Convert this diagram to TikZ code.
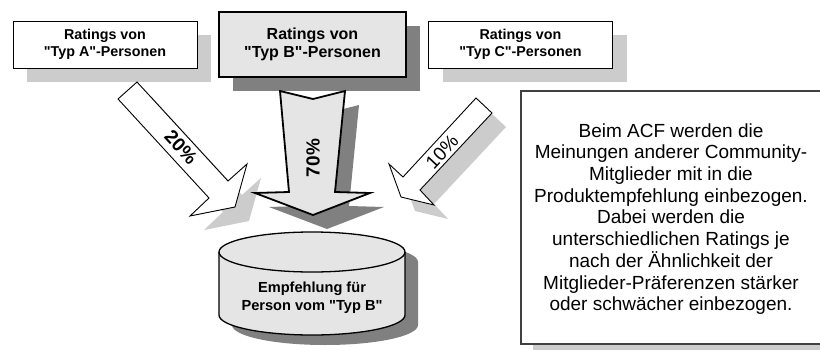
\documentclass[tikz,border=0pt]{standalone}
\usepackage{fontspec}
\setmainfont{Liberation Sans}[Ligatures=TeXOff]
\usetikzlibrary{shadows}

\definecolor{shadelight}{gray}{0.8}
\definecolor{shadedark}{gray}{0.5}
\definecolor{fillgray}{gray}{0.9}

\tikzset{
  lightshadow/.style={drop shadow={shadow xshift=14pt, shadow yshift=-14pt, fill=shadelight, opacity=1}},
  darkshadow/.style={drop shadow={shadow xshift=14pt, shadow yshift=-14pt, fill=shadedark, opacity=1}},
  sidebox/.style={draw, line width=0.9pt, fill=white, lightshadow, inner sep=0pt,
    minimum width=184pt, minimum height=47pt, align=center,
    font=\fontsize{14.3}{17}\selectfont\bfseries},
  mainbox/.style={draw, line width=1.8pt, fill=fillgray, darkshadow, inner sep=0pt,
    minimum width=187pt, minimum height=65pt, align=center,
    font=\fontsize{16}{18}\selectfont\bfseries},
  thinarrow/.style={draw, line width=0.9pt, fill=white, lightshadow, line join=miter},
  thickarrow/.style={draw, line width=1.8pt, fill=fillgray, darkshadow, line join=miter},
  percent/.style={font=\fontsize{19}{19}\selectfont, inner sep=0pt}
}

\begin{document}
\begin{tikzpicture}[x=1pt, y=-1pt]

    % Page frame
    \clip (0,0) rectangle (820,351);

    % Ratings boxes
    \node[sidebox] (boxA) at (105,44.5) {Ratings von\\"Typ A"-Personen};
    \node[mainbox] (boxB) at (312.5,44.5) {Ratings von\\"Typ B"-Personen};
    \node[sidebox] (boxC) at (520.5,44.5) {Ratings von\\"Typ C"-Personen};

    % Block arrow from A
    \filldraw[thinarrow] (137,82) -- (228,181) -- (247,164) -- (235,207)
        -- (190,216) -- (209,198) -- (118,99) -- cycle;

    % Block arrow from C
    \filldraw[thinarrow] (476,98) -- (492,113) -- (420,190) -- (434,205)
        -- (401,197) -- (389,164) -- (403,177) -- cycle;

    % Block arrow from B
    \filldraw[thickarrow] (280,91) -- (313,99) -- (345,91) -- (335,192)
        -- (370,193) -- (313,215) -- (255,193) -- (289,192) -- cycle;

    % Weights
    \node[percent, font=\fontsize{19}{19}\selectfont\bfseries, rotate=-47] (pctA) at (181,147) {20\%};
    \node[percent, font=\fontsize{19}{19}\selectfont\bfseries, rotate=90] (pctB) at (313,158) {70\%};
    \node[percent, rotate=47] (pctC) at (442,152) {10\%};

    % Cylinder
    \filldraw[line width=1.3pt, fill=fillgray,
        drop shadow={shadow xshift=13pt, shadow yshift=-10pt, fill=shadedark, opacity=1}]
        (219,252) arc[start angle=180, end angle=0, x radius=93pt, y radius=20pt]
        -- (405,315) arc[start angle=0, end angle=-180, x radius=93pt, y radius=20pt]
        -- cycle;
    \draw[line width=1.3pt] (219,252)
        arc[start angle=180, end angle=360, x radius=93pt, y radius=20pt];
    \node[align=center, inner sep=0pt, font=\fontsize{14.6}{18}\selectfont\bfseries]
        (target) at (312,298) {Empfehlung für\\Person vom "Typ B"};

    % Explanation
    \node[draw=black!75, line width=1.4pt, fill=white, inner sep=0pt,
        minimum width=306pt, minimum height=253pt,
        drop shadow={shadow xshift=12pt, shadow yshift=-6pt, fill=shadelight, opacity=1}]
        (noteframe) at (674,217.5) {};
    \node[align=center, inner sep=0pt, font=\fontsize{19}{21.7}\selectfont]
        (note) at (671,219) {Beim ACF werden die\\Meinungen anderer Community-\\Mitglieder mit in die\\Produktempfehlung einbezogen.\\Dabei werden die\\unterschiedlichen Ratings je\\nach der Ähnlichkeit der\\Mitglieder-Präferenzen stärker\\oder schwächer einbezogen.};

\end{tikzpicture}
\end{document}
